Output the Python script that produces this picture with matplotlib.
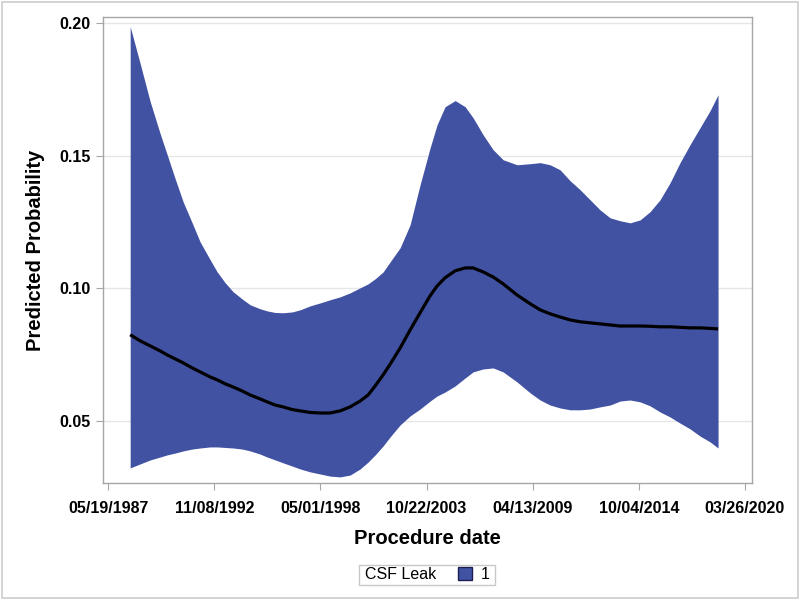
import matplotlib
matplotlib.use("Agg")
import matplotlib.pyplot as plt
import matplotlib.dates as mdates
from matplotlib.patches import Patch, Rectangle
import pandas as pd

# procedure date as decimal year
years = [
    1988.513, 1989.029, 1989.544, 1990.060, 1990.421, 1990.834, 1991.247, 1991.711, 1992.123, 1992.639,
    1993.000, 1993.413, 1993.826, 1994.290, 1994.702, 1995.218, 1995.579, 1995.992, 1996.405, 1996.869,
    1997.281, 1997.797, 1998.313, 1998.829, 1999.345, 1999.860, 2000.376, 2000.789, 2001.150, 2001.563,
    2001.924, 2002.439, 2002.955, 2003.471, 2003.987, 2004.348, 2004.760, 2005.276, 2005.792, 2006.205,
    2006.721, 2007.236, 2007.752, 2008.474, 2009.145, 2009.661, 2010.176, 2010.692, 2011.208, 2011.724,
    2012.240, 2012.755, 2013.271, 2013.787, 2014.303, 2014.819, 2015.334, 2015.850, 2016.366, 2016.882,
    2017.398, 2017.913, 2018.429, 2018.842,
]
upper = [
    0.1987, 0.1847, 0.1704, 0.1583, 0.1504, 0.1413, 0.1326, 0.1247, 0.1175, 0.1108,
    0.1062, 0.1021, 0.0987, 0.0960, 0.0938, 0.0923, 0.0915, 0.0909, 0.0908, 0.0911,
    0.0919, 0.0934, 0.0945, 0.0957, 0.0968, 0.0983, 0.1002, 0.1017, 0.1036, 0.1062,
    0.1100, 0.1153, 0.1240, 0.1391, 0.1530, 0.1617, 0.1685, 0.1708, 0.1685, 0.1643,
    0.1579, 0.1523, 0.1485, 0.1466, 0.1470, 0.1474, 0.1466, 0.1447, 0.1406, 0.1372,
    0.1334, 0.1296, 0.1266, 0.1255, 0.1247, 0.1258, 0.1289, 0.1334, 0.1398, 0.1474,
    0.1542, 0.1606, 0.1670, 0.1730,
]
lower = [
    0.0323, 0.0338, 0.0353, 0.0364, 0.0372, 0.0379, 0.0387, 0.0394, 0.0398, 0.0402,
    0.0402, 0.0400, 0.0398, 0.0394, 0.0387, 0.0375, 0.0364, 0.0353, 0.0342, 0.0330,
    0.0319, 0.0308, 0.0300, 0.0292, 0.0289, 0.0296, 0.0319, 0.0345, 0.0372, 0.0406,
    0.0440, 0.0485, 0.0519, 0.0545, 0.0575, 0.0594, 0.0609, 0.0632, 0.0662, 0.0685,
    0.0696, 0.0700, 0.0685, 0.0647, 0.0606, 0.0579, 0.0560, 0.0549, 0.0542, 0.0542,
    0.0545, 0.0553, 0.0560, 0.0575, 0.0579, 0.0572, 0.0557, 0.0534, 0.0515, 0.0492,
    0.0470, 0.0443, 0.0421, 0.0398,
]
predicted = [
    0.0825, 0.0802, 0.0783, 0.0764, 0.0749, 0.0734, 0.0719, 0.0700, 0.0685, 0.0666,
    0.0655, 0.0640, 0.0628, 0.0613, 0.0598, 0.0583, 0.0572, 0.0560, 0.0553, 0.0543,
    0.0538, 0.0532, 0.0530, 0.0530, 0.0538, 0.0553, 0.0575, 0.0598, 0.0632, 0.0674,
    0.0714, 0.0775, 0.0843, 0.0908, 0.0972, 0.1009, 0.1040, 0.1066, 0.1077, 0.1077,
    0.1062, 0.1043, 0.1017, 0.0975, 0.0942, 0.0919, 0.0904, 0.0892, 0.0881, 0.0874,
    0.0870, 0.0866, 0.0862, 0.0858, 0.0858, 0.0858, 0.0857, 0.0855, 0.0855, 0.0853,
    0.0851, 0.0851, 0.0849, 0.0847,
]
tick_dates = ["1987-05-19", "1992-11-08", "1998-05-01", "2003-10-22",
              "2009-04-13", "2014-10-04", "2020-03-26"]
y_ticks = [0.05, 0.10, 0.15, 0.20]
legend_title = "CSF Leak"
legend_label = "1"

FILL = "#4152A3"
AXIS_GRAY = "#A6A6A6"

plt.rcParams["font.family"] = ["Liberation Sans", "DejaVu Sans"]


def to_date(y):
    base = int(y)
    return pd.Timestamp(f"{base}-01-01") + pd.to_timedelta((y - base) * 365.25, unit="D")


x = [to_date(y) for y in years]

fig = plt.figure(figsize=(8, 6), dpi=100)
ax = fig.add_axes([0.129, 0.195, 0.811, 0.777])

ax.fill_between(x, lower, upper, color=FILL, linewidth=0, zorder=2)
ax.plot(x, predicted, color="black", linewidth=2.3, zorder=3,
        solid_joinstyle="round", solid_capstyle="butt")

ax.set_xlim(pd.Timestamp("1987-02-14"), pd.Timestamp("2020-08-05"))
ax.set_ylim(0.0266, 0.2024)

ax.set_xticks(pd.to_datetime(tick_dates))
ax.xaxis.set_major_formatter(mdates.DateFormatter("%m/%d/%Y"))
ax.set_yticks(y_ticks)
ax.set_yticklabels([f"{v:.2f}" for v in y_ticks])

ax.grid(axis="y", color="#E6E6E6", linewidth=1, zorder=0)
ax.set_axisbelow(True)
for s in ax.spines.values():
    s.set_color(AXIS_GRAY)
    s.set_linewidth(1)
ax.tick_params(axis="both", direction="out", length=5, color=AXIS_GRAY,
               labelsize=11.5, pad=4)
for lbl in ax.get_xticklabels() + ax.get_yticklabels():
    lbl.set_fontweight("bold")
ax.tick_params(axis="x", pad=8)

ax.set_xlabel("Procedure date", fontsize=14.5, fontweight="bold", labelpad=9)
ax.set_ylabel("Predicted Probability", fontsize=14.5, fontweight="bold", labelpad=10)

# legend box at bottom
fig.patches.append(Rectangle((0.449, 0.025), 0.17, 0.034, transform=fig.transFigure,
                             facecolor="white", edgecolor="#C8C8C8", linewidth=1))
fig.text(0.456, 0.042, legend_title, fontsize=11.5, va="center", ha="left")
fig.legend(handles=[Patch(facecolor=FILL, edgecolor="#1E1E50", linewidth=1)],
           labels=[legend_label], loc="center", bbox_to_anchor=(0.592, 0.042),
           frameon=False, fontsize=11.5, handlelength=0.9, handleheight=0.9,
           handletextpad=0.5, borderpad=0, borderaxespad=0)

# outer border of the image
fig.patches.append(Rectangle((0.002, 0.003), 0.996, 0.994, transform=fig.transFigure,
                             facecolor="none", edgecolor="#CCCCCC", linewidth=1.2))

fig.savefig("out.png", dpi=100)
